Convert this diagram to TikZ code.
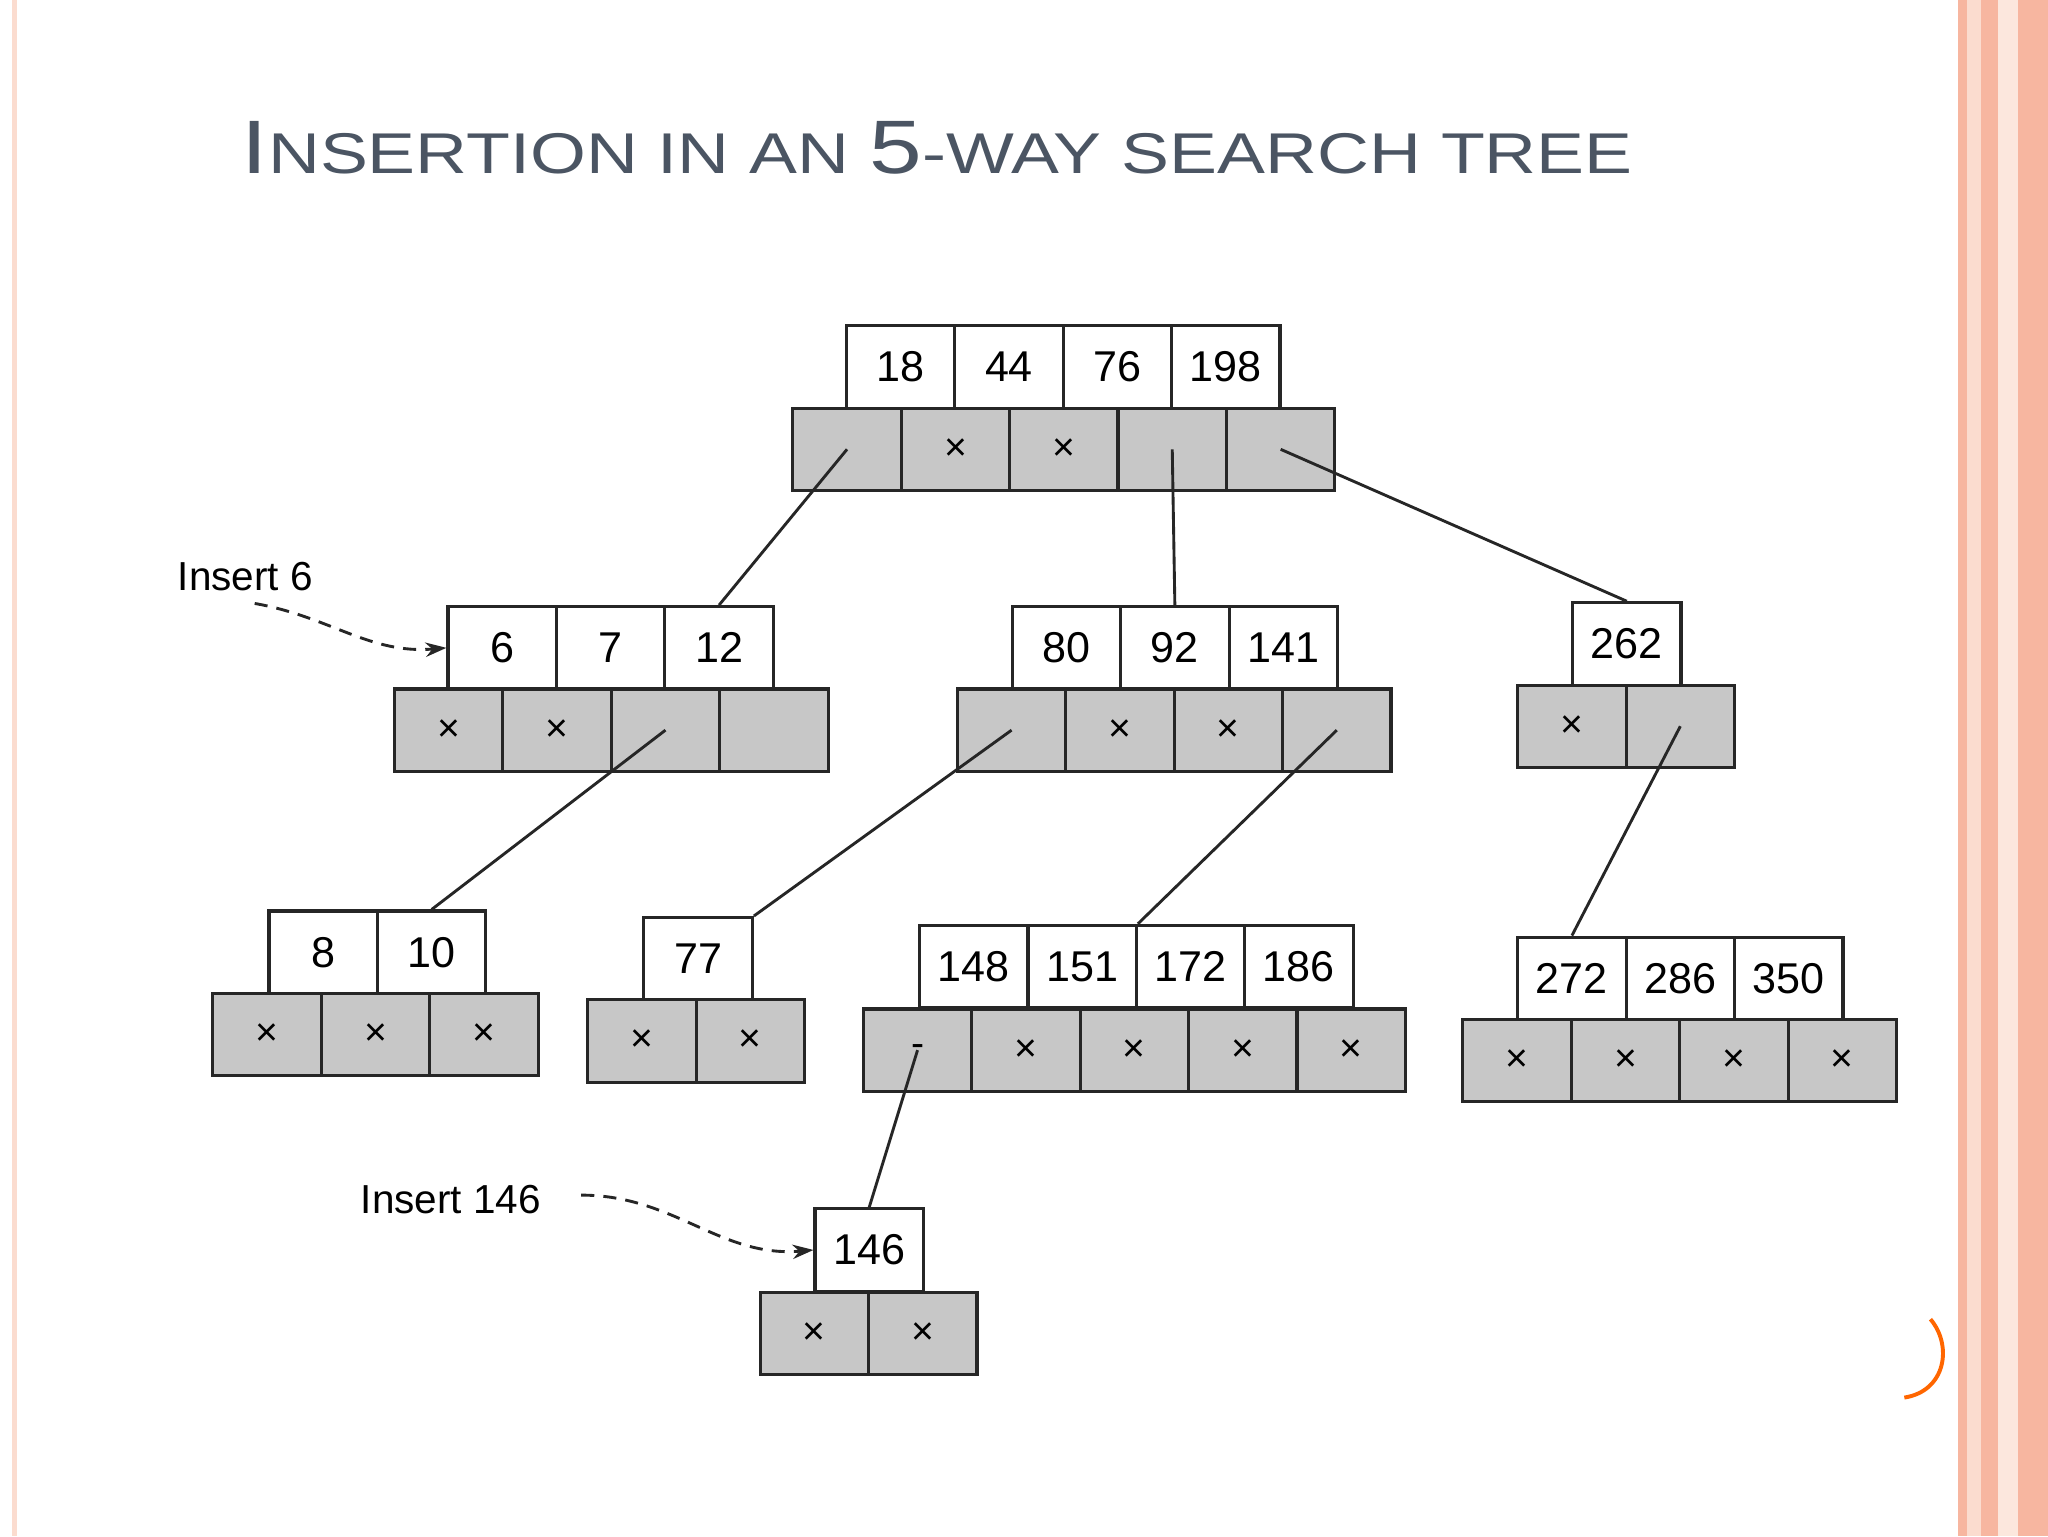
\documentclass[tikz,border=0pt]{standalone}
\usepackage{fontspec}
\setmainfont{Liberation Sans}
\usetikzlibrary{arrows.meta}
\definecolor{salmon}{HTML}{F7B6A0}
\definecolor{paleor}{HTML}{FBDCCF}
\definecolor{titlec}{HTML}{4B5563}
\newcommand{\Xm}{×}
\tikzset{
 keybox/.style={draw=black!85,line width=2.4pt,fill=white,minimum width=83pt,minimum height=63pt,inner sep=0pt,font=\fontsize{33}{34}\selectfont},
 ptrbox/.style={draw=black!85,line width=2.4pt,fill=black!22,minimum width=83pt,minimum height=63pt,inner sep=0pt,font=\fontsize{30}{32}\selectfont},
 link/.style={line width=2.2pt,black!85},
 ins/.style={line width=2.2pt,dashed,dash pattern=on 10pt off 7pt,-{Stealth[length=16pt,width=11pt]},black!85},
 lab/.style={font=\fontsize{31}{32}\selectfont,inner sep=0pt}
}
\newcommand{\mkkeys}[4]{\foreach \t [count=\i] in {#4}{\node[keybox] (#1-k\i) at ({#2+(\i-0.5)*83},{#3}) {\t};}}
\newcommand{\mkptrs}[4]{\foreach \t [count=\i] in {#4}{\node[ptrbox] (#1-p\i) at ({#2+(\i-0.5)*83},{#3}) {\t};}}
\begin{document}
\begin{tikzpicture}[x=1pt,y=-1pt]
\useasboundingbox (0,0) rectangle (1568,1176);
\fill[white] (0,0) rectangle (1568,1176);
\fill[paleor] (9,0) rectangle (13,1176);
\fill[salmon] (1499,0) rectangle (1506,1176);
\fill[paleor] (1506,0) rectangle (1517,1176);
\fill[salmon] (1517,0) rectangle (1568,1176);
\fill[paleor!70] (1530,0) rectangle (1545,1176);
\draw[orange!80!red,line width=3pt] (1478,1010) .. controls (1495,1030) and (1490,1065) .. (1458,1070);
\node[anchor=base west,text=titlec,inner sep=0pt] (title) at (185,133)
 {\scalebox{1.25}[1]{{\fontsize{58}{60}\selectfont I}{\fontsize{44}{46}\selectfont NSERTION IN AN }{\fontsize{58}{60}\selectfont 5}{\fontsize{44}{46}\selectfont -WAY SEARCH TREE}}};
% root
\mkkeys{r}{648}{281}{18,44,76,198}
\mkptrs{r}{607}{344}{,\Xm,\Xm,,}
% level 1
\mkkeys{a}{343}{496}{6,7,12}
\mkptrs{a}{302}{559}{\Xm,\Xm,,}
\mkkeys{b}{775}{496}{80,92,141}
\mkptrs{b}{733}{559}{,\Xm,\Xm,}
\mkkeys{c}{1204}{493}{262}
\mkptrs{c}{1162}{556}{\Xm,}
% level 2
\mkkeys{d}{206}{729}{8,10}
\mkptrs{d}{163}{792}{\Xm,\Xm,\Xm}
\mkkeys{e}{493}{734}{77}
\mkptrs{e}{450}{797}{\Xm,\Xm}
\mkkeys{f}{704}{740}{148,151,172,186}
\mkptrs{f}{661}{804}{-,\Xm,\Xm,\Xm,\Xm}
\mkkeys{g}{1162}{749}{272,286,350}
\mkptrs{g}{1120}{812}{\Xm,\Xm,\Xm,\Xm}
% level 3
\mkkeys{h}{624}{957}{146}
\mkptrs{h}{582}{1021}{\Xm,\Xm}
% links
\draw[link] (r-p1.center) -- (a-k3.north);
\draw[link] (r-p4.center) -- (b-k2.north);
\draw[link] (r-p5.center) -- (c-k1.north);
\draw[link] (a-p3.center) -- (d-k2.north);
\draw[link] (b-p1.center) -- (e-k1.north east);
\draw[link] (b-p4.center) -- (f-k2.north east);
\draw[link] (c-p2.center) -- (g-k1.north);
\draw[link] (f-p1.center) -- (h-k1.north);
% insert labels
\node[lab,anchor=base west] (i6) at (136,452) {Insert 6};
\coordinate (i6s) at (195,462);
\draw[ins] (i6s) to[out=-10,in=185] (a-k1.west);
\node[lab,anchor=base west] (i146) at (276,929) {Insert 146};
\coordinate (i146s) at (445,915);
\draw[ins] (i146s) to[out=0,in=185] (h-k1.west);
\end{tikzpicture}
\end{document}
